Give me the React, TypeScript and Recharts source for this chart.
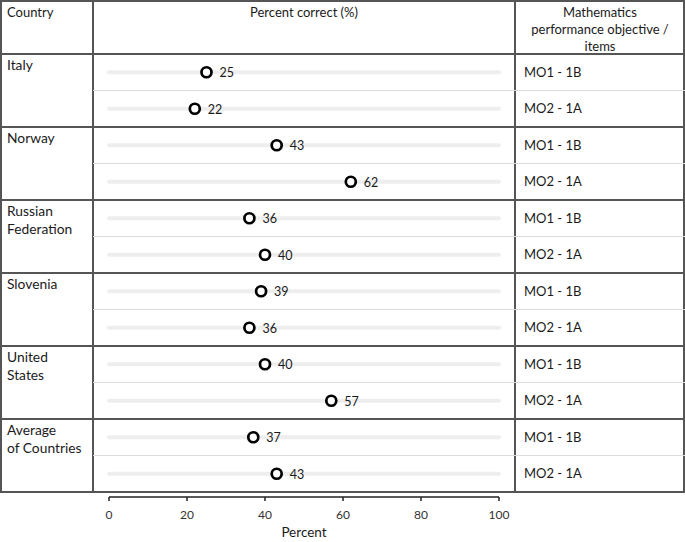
import { ScatterChart, Scatter, XAxis, YAxis, ReferenceLine, LabelList } from "recharts";

const COUNTRIES = ["Italy", "Norway", "Russian\nFederation", "Slovenia", "United\nStates", "Average\nof Countries"];
const OBJECTIVES = ["MO1 - 1B", "MO2 - 1A"];
const MO1_VALUES = [25, 43, 36, 39, 40, 37];
const MO2_VALUES = [22, 62, 40, 36, 57, 43];
const X_TICKS = [0, 20, 40, 60, 80, 100];

const W = 685;
const H = 542;
const HEADER_H = 54;
const ROW_H = 36.5;
const COL1 = 93;
const COL2 = 515;
const AXIS_GAP = 5;
const DARK = "#555";
const LIGHT = "#dcdcdc";
const FONT = "Lato, 'Open Sans', sans-serif";

const ROWS = COUNTRIES.length * OBJECTIVES.length;
const TABLE_BOTTOM = HEADER_H + ROWS * ROW_H;

const chartData = COUNTRIES.flatMap((_, i) =>
    [MO1_VALUES[i], MO2_VALUES[i]].map((v, j) => ({ x: v, y: i * 2 + j + 0.5 }))
);

function Dot(props: any) {
    return <circle cx={props.cx} cy={props.cy} r={5} fill="#fff" stroke="#000" strokeWidth={2.7} />;
}

function ValueLabel(props: any) {
    return (
        <text x={props.x + props.width / 2 + 13} y={props.y + props.height / 2 + 2} fontSize={12.5} fill="#1a1a1a" dominantBaseline="middle" fontFamily={FONT}>
            {props.value}
        </text>
    );
}

function hLine(key: string, y: number, x1: number, x2: number, color: string, w = 1.5) {
    return <div key={key} style={{ position: "absolute", left: x1, top: y - w / 2, width: x2 - x1, height: w, background: color }} />;
}

function vLine(key: string, x: number, y1: number, y2: number) {
    return <div key={key} style={{ position: "absolute", left: x - 0.75, top: y1, width: 1.5, height: y2 - y1, background: DARK }} />;
}

export default function App() {
    const lines = [
        hLine("top", 0.75, 0, W, DARK),
        hLine("head", HEADER_H, 0, W, DARK),
        vLine("l", 0.75, 0, TABLE_BOTTOM),
        vLine("c1", COL1, 0, TABLE_BOTTOM),
        vLine("c2", COL2, 0, TABLE_BOTTOM),
        vLine("r", W - 1, 0, TABLE_BOTTOM),
    ];
    COUNTRIES.forEach((_, i) => {
        const top = HEADER_H + i * 2 * ROW_H;
        lines.push(hLine(`sub${i}`, top + ROW_H, COL1, W, LIGHT, 1));
        lines.push(hLine(`grp${i}`, top + 2 * ROW_H, 0, W, DARK));
    });

    const textStyle = { position: "absolute" as const, fontSize: 13, lineHeight: "17px", color: "#1a1a1a", whiteSpace: "pre" as const };

    return (
        <div style={{ position: "absolute", left: 0, top: 0, width: W, height: H, background: "#fff", fontFamily: FONT }}>
            {lines}
            <div style={{ ...textStyle, left: 7, top: 3.5 }}>Country</div>
            <div style={{ ...textStyle, left: COL1, width: COL2 - COL1, top: 3.5, textAlign: "center" }}>Percent correct (%)</div>
            <div style={{ ...textStyle, left: COL2, width: W - COL2, top: 3.5, textAlign: "center" }}>
                {"Mathematics\nperformance objective /\nitems"}
            </div>
            {COUNTRIES.map((c, i) => (
                <div key={c} style={{ ...textStyle, fontSize: 13.8, lineHeight: "18px", left: 7, top: HEADER_H + i * 2 * ROW_H + 2 }}>{c}</div>
            ))}
            {COUNTRIES.flatMap((c, i) =>
                OBJECTIVES.map((o, j) => (
                    <div key={c + o} style={{ ...textStyle, left: COL2 + 9, top: HEADER_H + (i * 2 + j + 0.5) * ROW_H - 8.5 }}>{o}</div>
                ))
            )}
            <div style={{ position: "absolute", left: 0, top: 0 }}>
                <ScatterChart width={W} height={H} margin={{ top: HEADER_H, left: 109, right: W - 499, bottom: 5 }}>
                    <XAxis
                        type="number"
                        dataKey="x"
                        domain={[0, 100]}
                        ticks={X_TICKS}
                        height={40}
                        tickSize={4}
                        tickMargin={9}
                        axisLine={{ stroke: "#222", strokeWidth: 1.5 }}
                        tickLine={{ stroke: "#222", strokeWidth: 1.5 }}
                        tick={{ fill: "#333", fontSize: 12, fontFamily: FONT }}
                        label={{ value: "Percent", position: "insideBottom", offset: 0, fill: "#1a1a1a", fontSize: 13.5, fontFamily: FONT }}
                    />
                    <YAxis type="number" dataKey="y" hide reversed domain={[0, ROWS + AXIS_GAP / ROW_H]} />
                    {chartData.map((d, i) => (
                        <ReferenceLine
                            key={`track${i}`}
                            segment={[{ x: 0, y: d.y }, { x: 100, y: d.y }]}
                            stroke="#eeeeee"
                            strokeWidth={4}
                            strokeLinecap="round"
                            ifOverflow="visible"
                        />
                    ))}
                    <Scatter data={chartData} shape={<Dot />} isAnimationActive={false}>
                        <LabelList dataKey="x" content={<ValueLabel />} />
                    </Scatter>
                </ScatterChart>
            </div>
        </div>
    );
}
